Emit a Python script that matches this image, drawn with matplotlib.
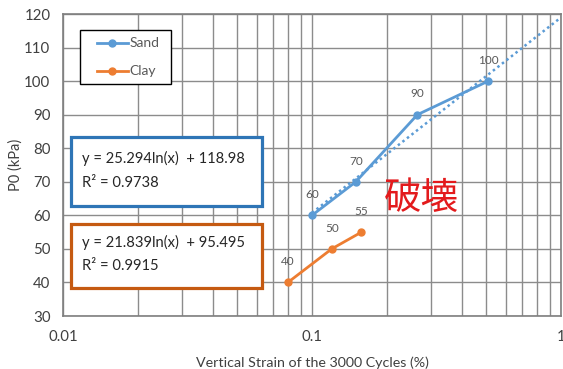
import numpy as np
import matplotlib
matplotlib.use("Agg")
import matplotlib.pyplot as plt
from matplotlib.patches import Rectangle
from matplotlib.lines import Line2D

plt.rcParams['font.family'] = ['Lato', 'Noto Sans CJK JP', 'DejaVu Sans']

# Data
sand_strain = [0.10, 0.15, 0.265, 0.51]
sand_p0 = [60, 70, 90, 100]
clay_strain = [0.08, 0.12, 0.158]
clay_p0 = [40, 50, 55]

sand_a, sand_b, sand_r2 = 25.294, 118.98, 0.9738
clay_a, clay_b, clay_r2 = 21.839, 95.495, 0.9915

sand_color = '#5b9bd5'
clay_color = '#ed7d31'
label_color = '#595959'

fig = plt.figure(figsize=(5.63, 3.69), dpi=100)
ax = fig.add_axes([0.1119, 0.1436, 0.8845, 0.8184])

ax.set_xscale('log')
ax.set_xlim(0.01, 1)
ax.set_ylim(30, 120)
ax.set_yticks(np.arange(30, 121, 10))
ax.set_xticks([0.01, 0.1, 1])
ax.set_xticklabels(['0.01', '0.1', '1'])
ax.xaxis.set_minor_locator(matplotlib.ticker.LogLocator(base=10, subs=np.arange(2, 10)))
ax.xaxis.set_minor_formatter(matplotlib.ticker.NullFormatter())

ax.grid(True, which='both', axis='x', color='#8c8c8c', lw=1.0)
ax.grid(True, which='major', axis='y', color='#8c8c8c', lw=1.0)
ax.set_axisbelow(True)
for s in ax.spines.values():
    s.set_color('#7f7f7f')
    s.set_linewidth(1.2)
ax.tick_params(which='both', length=0, labelsize=10.8, colors='#404040')
ax.tick_params(axis='y', pad=9)
ax.tick_params(axis='x', pad=10)

# Logarithmic trendline for sand
xt = np.logspace(np.log10(0.1), 0, 200)
ax.plot(xt, sand_a * np.log(xt) + sand_b, ls=(0, (1, 1.3)), color=sand_color, lw=1.8)

ax.plot(sand_strain, sand_p0, '-o', color=sand_color, lw=2.0, ms=5)
ax.plot(clay_strain, clay_p0, '-o', color=clay_color, lw=2.0, ms=5)

for x, y in zip(sand_strain, sand_p0):
    ax.annotate(f'{y}', (x, y), xytext=(0, 11), textcoords='offset points',
                ha='center', va='bottom', fontsize=8.5, color=label_color)
for x, y in zip(clay_strain, clay_p0):
    ax.annotate(f'{y}', (x, y), xytext=(0, 11), textcoords='offset points',
                ha='center', va='bottom', fontsize=8.5, color=label_color)

# Legend
ax.add_patch(Rectangle((0.034, 0.768), 0.183, 0.179, transform=ax.transAxes,
                       facecolor='white', edgecolor='black', lw=1.0, zorder=5))
for name, color, yy in [('Sand', sand_color, 0.904), ('Clay', clay_color, 0.811)]:
    ax.add_line(Line2D([0.0683, 0.1305], [yy, yy], transform=ax.transAxes,
                       color=color, lw=2.0, zorder=6))
    ax.add_line(Line2D([0.0994], [yy], transform=ax.transAxes, marker='o', ms=5,
                       color=color, zorder=6))
    ax.text(0.1335, yy, name, transform=ax.transAxes, fontsize=10, color=label_color,
            va='center', ha='left', zorder=6)

# Equation boxes
ax.add_patch(Rectangle((0.0155, 0.364), 0.3835, 0.228, transform=ax.transAxes,
                       fill=True, facecolor='white', edgecolor='#2e75b6', lw=2.3, zorder=5))
ax.text(0.039, 0.522, f'y = {sand_a}ln(x)  + {sand_b}', transform=ax.transAxes,
        fontsize=10.6, color='#262626', va='center', zorder=6)
ax.text(0.039, 0.442, f'R² = {sand_r2}', transform=ax.transAxes,
        fontsize=10.6, color='#262626', va='center', zorder=6)

ax.add_patch(Rectangle((0.0155, 0.094), 0.3835, 0.211, transform=ax.transAxes,
                       fill=True, facecolor='white', edgecolor='#c55a11', lw=2.3, zorder=5))
ax.text(0.039, 0.245, f'y = {clay_a}ln(x)  + {clay_b}', transform=ax.transAxes,
        fontsize=10.6, color='#262626', va='center', zorder=6)
ax.text(0.039, 0.165, f'R² = {clay_r2}', transform=ax.transAxes,
        fontsize=10.6, color='#262626', va='center', zorder=6)

ax.text(0.274, 65.0, '破壊', fontsize=27, color='#e31a1c', ha='center', va='center',
        family=['Noto Sans CJK JP'])

ax.set_xlabel('Vertical Strain of the 3000 Cycles (%)', fontsize=10.3, color='#404040', labelpad=9)
ax.set_ylabel('P0 (kPa)', fontsize=10.5, color='#404040', va='center')
ax.yaxis.set_label_coords(-0.096, 0.5)

fig.savefig('out.png', dpi=100)
